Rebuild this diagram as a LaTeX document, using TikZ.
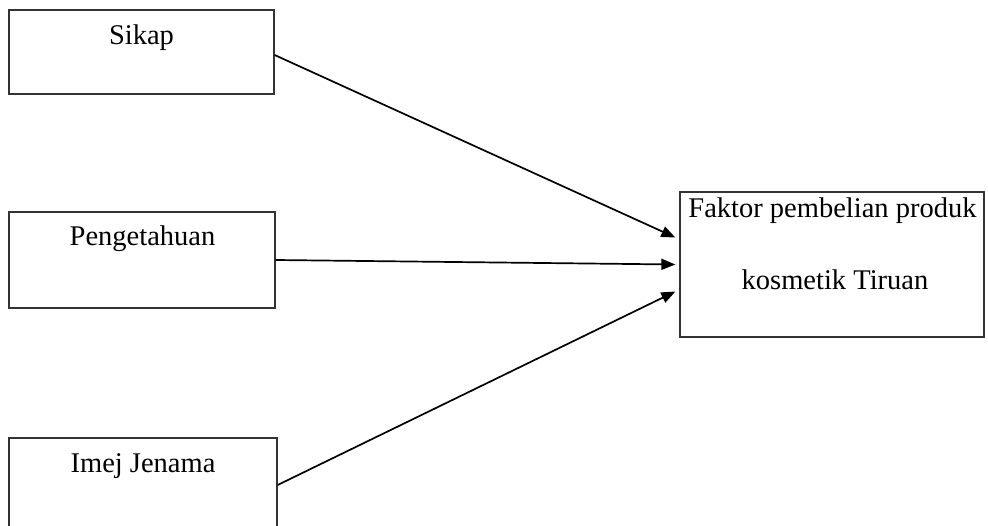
\documentclass[tikz,border=0pt]{standalone}
\usepackage{fontspec}
\setmainfont{Liberation Serif}
\usetikzlibrary{arrows.meta,calc}
\begin{document}
\begin{tikzpicture}[x=1pt,y=-1pt,
  box/.style={draw=black!80,line width=1.3pt,rectangle,inner sep=0pt},
  lbl/.style={anchor=base,inner sep=0pt,font=\fontsize{28.5}{30}\selectfont},
  conn/.style={line width=1.7pt,-{Triangle[length=14pt,width=11pt]}}]
\useasboundingbox[fill=white] (0,0) rectangle (988,526);
\node[box,minimum width=265pt,minimum height=84pt] (sikap) at (141.5,52) {};
\node[box,minimum width=266pt,minimum height=96pt] (peng) at (142,260) {};
\node[box,minimum width=268pt,minimum height=100pt] (imej) at (143,488) {};
\node[box,minimum width=304pt,minimum height=145pt] (fak) at (832,264.5) {};
\node[lbl] (t1) at (141.5,45) {Sikap};
\node[lbl] (t2) at (142.5,246) {Pengetahuan};
\node[lbl] (t3) at (143,472) {Imej Jenama};
\node[lbl] (t4) at (832.5,218) {Faktor pembelian produk};
\node[lbl] (t5) at (835,290) {kosmetik Tiruan};
\coordinate (e1) at ($(fak.west)+(-4,-27)$);
\coordinate (e2) at ($(fak.west)+(-4,0)$);
\coordinate (e3) at ($(fak.west)+(-4,27)$);
\draw[conn] ($(sikap.east)+(0,3)$) -- (e1);
\draw[conn] (peng.east) -- (e2);
\draw[conn] ($(imej.east)+(0,-3)$) -- (e3);
\end{tikzpicture}
\end{document}
